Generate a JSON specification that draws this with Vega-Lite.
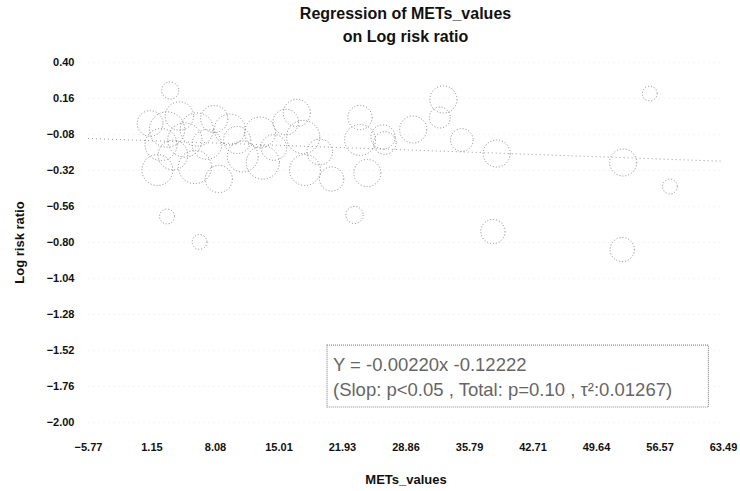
{
  "$schema": "https://vega.github.io/schema/vega-lite/v6.json",
  "autosize": "none",
  "padding": {"left": 88, "top": 62, "right": 17, "bottom": 69},
  "width": 635,
  "height": 360,
  "background": "white",
  "title": {
    "text": ["Regression of METs_values", "on Log risk ratio"],
    "font": "Liberation Sans",
    "fontSize": 16,
    "fontWeight": "bold",
    "color": "#111",
    "anchor": "middle",
    "offset": 11,
    "lineHeight": 23
  },
  "config": {
    "view": {"stroke": null},
    "axis": {
      "labelFont": "Liberation Sans",
      "labelFontWeight": "bold",
      "labelFontSize": 11,
      "labelColor": "#111",
      "labelOverlap": false,
      "titleFont": "Liberation Sans",
      "titleFontWeight": "bold",
      "titleFontSize": 13,
      "titleColor": "#111",
      "domain": false,
      "ticks": false,
      "grid": true,
      "gridColor": "#e6e6e6",
      "gridDash": [1, 4]
    }
  },
  "datasets": {
    "studies": [
      {"mets": 1.0, "lrr": -0.01, "w": 9},
      {"mets": 1.8, "lrr": -0.32, "w": 13},
      {"mets": 2.85, "lrr": -0.05, "w": 17},
      {"mets": 2.2, "lrr": -0.15, "w": 14},
      {"mets": 3.5, "lrr": -0.22, "w": 12},
      {"mets": 4.2, "lrr": 0.04, "w": 11},
      {"mets": 4.8, "lrr": -0.12, "w": 16},
      {"mets": 6.1, "lrr": -0.05, "w": 15},
      {"mets": 5.9, "lrr": -0.30, "w": 15},
      {"mets": 7.2, "lrr": -0.15, "w": 12},
      {"mets": 8.0, "lrr": 0.02, "w": 10},
      {"mets": 8.5, "lrr": -0.38, "w": 10},
      {"mets": 9.7, "lrr": -0.05, "w": 13},
      {"mets": 11.1, "lrr": -0.23, "w": 13},
      {"mets": 10.5, "lrr": -0.12, "w": 10},
      {"mets": 13.0, "lrr": -0.07, "w": 13},
      {"mets": 13.3, "lrr": -0.27, "w": 15},
      {"mets": 14.5, "lrr": -0.17, "w": 9},
      {"mets": 15.8, "lrr": 0.0, "w": 9},
      {"mets": 17.0, "lrr": 0.06, "w": 10},
      {"mets": 17.7, "lrr": -0.10, "w": 15},
      {"mets": 17.9, "lrr": -0.32, "w": 13},
      {"mets": 19.5, "lrr": -0.2, "w": 9},
      {"mets": 20.8, "lrr": -0.38, "w": 8},
      {"mets": 23.9, "lrr": 0.03, "w": 8},
      {"mets": 23.9, "lrr": -0.12, "w": 13},
      {"mets": 24.7, "lrr": -0.34, "w": 10},
      {"mets": 26.4, "lrr": -0.10, "w": 8},
      {"mets": 26.6, "lrr": -0.14, "w": 7},
      {"mets": 29.7, "lrr": -0.05, "w": 10},
      {"mets": 32.6, "lrr": 0.03, "w": 6},
      {"mets": 33.0, "lrr": 0.15, "w": 10},
      {"mets": 35.0, "lrr": -0.12, "w": 7},
      {"mets": 38.8, "lrr": -0.21, "w": 10},
      {"mets": 38.4, "lrr": -0.73, "w": 8},
      {"mets": 52.6, "lrr": -0.27, "w": 10},
      {"mets": 52.5, "lrr": -0.85, "w": 8},
      {"mets": 55.5, "lrr": 0.19, "w": 3},
      {"mets": 57.7, "lrr": -0.43, "w": 3},
      {"mets": 3.2, "lrr": 0.21, "w": 4},
      {"mets": 2.85, "lrr": -0.63, "w": 3},
      {"mets": 6.4, "lrr": -0.80, "w": 3},
      {"mets": 23.3, "lrr": -0.62, "w": 4}
    ],
    "fit": [
      {"mets": -5.77, "lrr": -0.1095},
      {"mets": 63.49, "lrr": -0.2619}
    ],
    "box": [
      {"x1": 20.3, "x2": 61.9, "y1": -1.487, "y2": -1.9}
    ],
    "notes": [
      {"mets": 20.95, "lrr": -1.62, "label": "Y = -0.00220x -0.12222"},
      {"mets": 20.95, "lrr": -1.787, "label": "(Slop: p<0.05 , Total: p=0.10 , τ²:0.01267)"}
    ]
  },
  "layer": [
    {
      "data": {"name": "fit"},
      "mark": {"type": "line", "color": "#9a9a9a", "strokeWidth": 1, "strokeDash": [1, 3]},
      "encoding": {
        "x": {
          "field": "mets", "type": "quantitative",
          "scale": {"domain": [-5.77, 63.49], "nice": false, "zero": false},
          "axis": {
            "title": "METs_values",
            "values": [-5.77, 1.15, 8.08, 15.01, 21.93, 28.86, 35.79, 42.71, 49.64, 56.57, 63.49],
            "tickCount": 20,
            "format": ".2f",
            "labelOverlap": false,
            "labelFlush": false,
            "labelPadding": 19,
            "titlePadding": 21,
            "grid": false
          }
        },
        "y": {
          "field": "lrr", "type": "quantitative",
          "scale": {"domain": [-2.0, 0.4], "nice": false, "zero": false},
          "axis": {
            "title": "Log risk ratio",
            "values": [0.4, 0.16, -0.08, -0.32, -0.56, -0.8, -1.04, -1.28, -1.52, -1.76, -2.0],
            "tickCount": 20,
            "format": ".2f",
            "labelOverlap": false,
            "labelFlush": false,
            "labelPadding": 14,
            "titlePadding": 20
          }
        }
      }
    },
    {
      "data": {"name": "studies"},
      "mark": {"type": "point", "shape": "circle", "filled": false, "stroke": "#7a7a7a", "strokeWidth": 1, "strokeDash": [1, 2], "opacity": 0.9},
      "encoding": {
        "x": {"field": "mets", "type": "quantitative"},
        "y": {"field": "lrr", "type": "quantitative"},
        "size": {"field": "w", "type": "quantitative", "scale": {"type": "linear", "domain": [0, 17], "range": [0, 1250]}, "legend": null}
      }
    },
    {
      "data": {"name": "box"},
      "mark": {"type": "rect", "fill": "white", "stroke": "#8a8a8a", "strokeWidth": 1.2, "strokeDash": [1, 1]},
      "encoding": {
        "x": {"field": "x1", "type": "quantitative"},
        "x2": {"field": "x2"},
        "y": {"field": "y1", "type": "quantitative"},
        "y2": {"field": "y2"}
      }
    },
    {
      "data": {"name": "notes"},
      "mark": {"type": "text", "align": "left", "baseline": "middle", "font": "Liberation Sans", "fontSize": 18.5, "color": "#666"},
      "encoding": {
        "x": {"field": "mets", "type": "quantitative"},
        "y": {"field": "lrr", "type": "quantitative"},
        "text": {"field": "label"}
      }
    }
  ]
}
